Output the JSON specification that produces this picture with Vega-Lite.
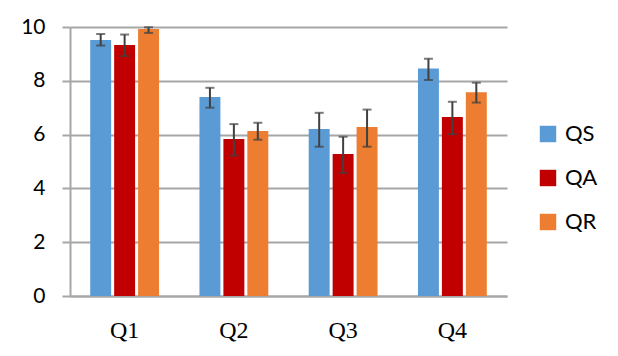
{
  "$schema": "https://vega.github.io/schema/vega-lite/v6.json",
  "width": 437,
  "height": 269,
  "autosize": {"type": "none"},
  "padding": {"left": 70, "top": 27, "right": 111, "bottom": 60},
  "background": "white",
  "config": {"view": {"stroke": null}},
  "data": {
    "values": [
      {"q": "Q1", "s": "QS", "v": 9.52, "lo": 9.31, "hi": 9.74},
      {"q": "Q1", "s": "QA", "v": 9.33, "lo": 8.92, "hi": 9.72},
      {"q": "Q1", "s": "QR", "v": 9.93, "lo": 9.78, "hi": 9.99},
      {"q": "Q2", "s": "QS", "v": 7.40, "lo": 7.00, "hi": 7.74},
      {"q": "Q2", "s": "QA", "v": 5.84, "lo": 5.22, "hi": 6.39},
      {"q": "Q2", "s": "QR", "v": 6.13, "lo": 5.81, "hi": 6.44},
      {"q": "Q3", "s": "QS", "v": 6.21, "lo": 5.55, "hi": 6.81},
      {"q": "Q3", "s": "QA", "v": 5.28, "lo": 4.58, "hi": 5.92},
      {"q": "Q3", "s": "QR", "v": 6.28, "lo": 5.55, "hi": 6.93},
      {"q": "Q4", "s": "QS", "v": 8.46, "lo": 8.03, "hi": 8.82},
      {"q": "Q4", "s": "QA", "v": 6.65, "lo": 6.02, "hi": 7.22},
      {"q": "Q4", "s": "QR", "v": 7.57, "lo": 7.19, "hi": 7.93}
    ]
  },
  "encoding": {
    "x": {
      "field": "q", "type": "nominal", "title": null,
      "scale": {"paddingInner": 0.37, "paddingOuter": 0.185},
      "axis": {
        "labelAngle": 0, "labelFont": "Liberation Serif", "labelFontSize": 24,
        "labelColor": "black", "labelPadding": 22, "ticks": false,
        "domainColor": "#a6a6a6", "domainWidth": 2, "grid": false
      }
    },
    "xOffset": {
      "field": "s", "type": "nominal", "sort": ["QS", "QA", "QR"],
      "scale": {"paddingInner": 0.125, "paddingOuter": 0}
    }
  },
  "layer": [
    {
      "mark": {"type": "bar"},
      "encoding": {
        "y": {
          "field": "v", "type": "quantitative", "title": null,
          "scale": {"domain": [0, 10], "nice": false},
          "axis": {
            "values": [0, 2, 4, 6, 8, 10], "labelFont": "Lato", "labelFontSize": 21,
            "labelColor": "black", "labelPadding": 17, "tickSize": 8, "tickColor": "#a6a6a6",
            "tickWidth": 2, "domainColor": "#a6a6a6", "domainWidth": 2,
            "gridColor": "#a6a6a6", "gridWidth": 2
          }
        },
        "color": {
          "field": "s", "type": "nominal", "sort": ["QS", "QA", "QR"], "title": null,
          "scale": {"domain": ["QS", "QA", "QR"], "range": ["#5B9BD5", "#C00000", "#ED7D31"]},
          "legend": {
            "orient": "none", "legendX": 467, "legendY": 96,
            "symbolType": "square", "symbolSize": 270, "symbolStrokeWidth": 0,
            "labelFont": "Lato", "labelFontSize": 22, "labelColor": "black",
            "rowPadding": 22, "labelOffset": 6
          }
        }
      }
    },
    {
      "mark": {"type": "rule", "color": "#404040", "strokeWidth": 2},
      "encoding": {
        "y": {"field": "lo", "type": "quantitative"},
        "y2": {"field": "hi"}
      }
    },
    {
      "mark": {"type": "tick", "color": "#404040", "thickness": 2, "size": 9},
      "encoding": {"y": {"field": "lo", "type": "quantitative"}}
    },
    {
      "mark": {"type": "tick", "color": "#404040", "thickness": 2, "size": 9},
      "encoding": {"y": {"field": "hi", "type": "quantitative"}}
    }
  ]
}
